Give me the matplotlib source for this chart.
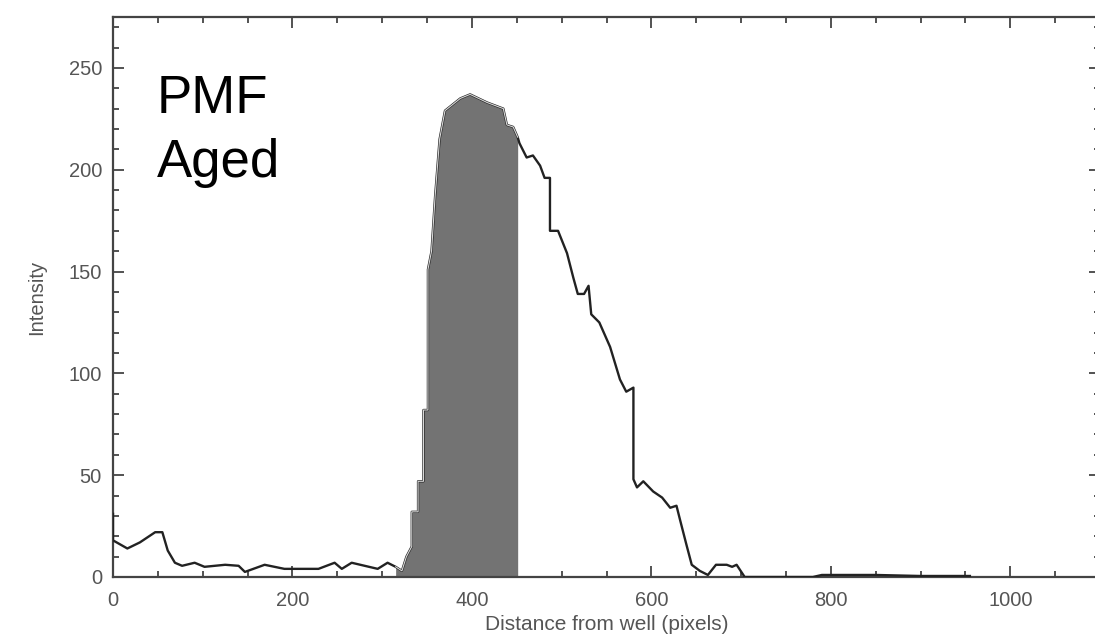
import matplotlib
matplotlib.use("Agg")
import matplotlib.pyplot as plt
import numpy as np
from matplotlib.ticker import MultipleLocator

plt.rcParams['font.family'] = ['Liberation Sans', 'DejaVu Sans']

distance = [0, 0, 16, 30, 47, 55, 61, 69, 77, 91, 102, 125, 140, 147, 169, 191,
            229, 247, 255, 266, 295, 306, 315, 322, 327, 333, 333, 340, 340, 346,
            346, 351, 351, 355, 359, 364, 370, 387, 398, 417, 435, 439, 446, 451,
            453, 461, 468, 476, 481, 487, 487, 496, 506, 513, 518, 525, 530, 533,
            542, 554, 565, 572, 580, 580, 584, 591, 602, 612, 621, 628, 632, 639,
            645, 654, 663, 672, 684, 690, 695, 701, 704, 780, 790, 850, 900, 955]
intensity = [31, 18, 14, 17, 22, 22, 13, 7, 5.5, 7, 5, 6, 5.5, 2.5, 6, 4,
             4, 7, 4, 7, 4, 7, 5, 3, 10, 15, 32, 32, 47, 47,
             82, 82, 151, 160, 187, 215, 229, 235, 237, 233, 230, 222, 221, 216,
             213, 206, 207, 202, 196, 196, 170, 170, 159, 147, 139, 139, 143, 129,
             125, 113, 97, 91, 93, 48, 44, 47, 42, 39, 34, 35, 28, 16,
             6, 3, 1, 6, 6, 5, 6, 2, 0, 0, 1, 1, 0.5, 0.5]
band_start, band_end = 310, 451

x_ticks = [0, 200, 400, 600, 800, 1000]
y_ticks = [0, 50, 100, 150, 200, 250]

d = np.array(distance, dtype=float)
v = np.array(intensity, dtype=float)

fig = plt.figure(figsize=(10.95, 6.42), dpi=100)
ax = fig.add_axes([113 / 1095, 65 / 642, (1100 - 113) / 1095, (577 - 17) / 642])

mask = (d >= band_start) & (d <= band_end)
ax.fill_between(d, 0, v, where=mask, color='#737373', linewidth=0, zorder=2)
ax.plot(d, v, color='#222222', linewidth=1.7, zorder=3)
ax.plot(d[mask], v[mask], color='#d8d8d8', linewidth=0.8, zorder=4)

ax.set_xlim(0, 1100)
ax.set_ylim(0, 275)
ax.set_xticks(x_ticks)
ax.set_yticks(y_ticks)
ax.xaxis.set_minor_locator(MultipleLocator(50))
ax.yaxis.set_minor_locator(MultipleLocator(10))
ax.tick_params(which='both', direction='in', top=True, right=True,
               colors='#444444', labelcolor='#555555', width=1.3)
ax.tick_params(which='major', length=8, labelsize=14.5)
ax.tick_params(axis='x', which='major', pad=10)
ax.tick_params(axis='y', which='major', pad=8)
ax.tick_params(which='minor', length=4)
for s in ax.spines.values():
    s.set_color('#444444')
    s.set_linewidth(1.6)

ax.set_xlabel('Distance from well (pixels)', fontsize=15, color='#555555', labelpad=4)
ax.set_ylabel('Intensity', fontsize=14.5, color='#555555', labelpad=16)

ax.text(49, 228, 'PMF', fontsize=38, color='black', va='baseline', ha='left')
ax.text(49, 196.5, 'Aged', fontsize=38, color='black', va='baseline', ha='left')

fig.savefig('out.png', dpi=100)
